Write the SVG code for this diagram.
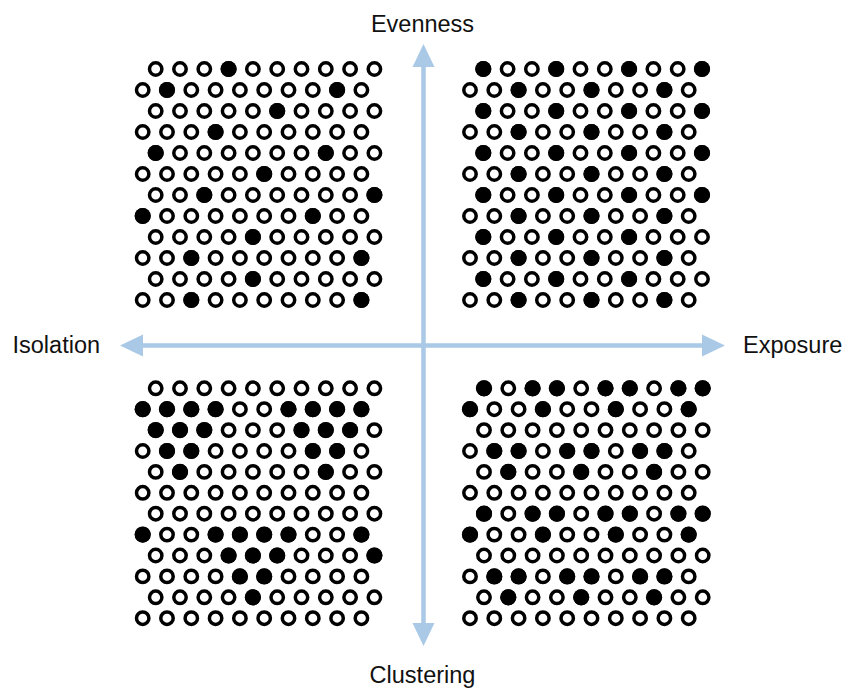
<svg xmlns="http://www.w3.org/2000/svg" xmlns:xlink="http://www.w3.org/1999/xlink" width="846" height="689" viewBox="0 0 846 689">
<style>
.o{fill:#fff;stroke:#000;stroke-width:3.5}
.f{fill:#000}
.ax{stroke:#a9c9e6;stroke-width:4.5;fill:none}
.lbl{font-family:"Liberation Sans",Arial,sans-serif;font-size:23.5px;fill:#111}
</style>
<defs>
<marker id="ah" markerUnits="userSpaceOnUse" markerWidth="24" markerHeight="24" viewBox="0 0 24 24" refX="1" refY="12" orient="auto-start-reverse">
<path d="M0,1 L23,12 L0,23 Z" fill="#a9c9e6"/>
</marker>
<g id="row">
<circle class="o" cx="0" cy="0" r="6.2"/><circle class="o" cx="24.3" cy="0" r="6.2"/><circle class="o" cx="48.6" cy="0" r="6.2"/><circle class="o" cx="72.9" cy="0" r="6.2"/><circle class="o" cx="97.2" cy="0" r="6.2"/><circle class="o" cx="121.5" cy="0" r="6.2"/><circle class="o" cx="145.8" cy="0" r="6.2"/><circle class="o" cx="170.1" cy="0" r="6.2"/><circle class="o" cx="194.4" cy="0" r="6.2"/><circle class="o" cx="218.7" cy="0" r="6.2"/>
</g>
<circle id="d" class="f" cx="0" cy="0" r="8.1"/>
</defs>
<rect width="846" height="689" fill="#fff"/>

<g id="connectors">
<line class="ax" x1="423.5" y1="624" x2="423.5" y2="66" marker-start="url(#ah)" marker-end="url(#ah)"/>
<line class="ax" x1="142" y1="345.5" x2="703" y2="345.5" marker-start="url(#ah)" marker-end="url(#ah)"/>
</g>

<g id="label-evenness"><text class="lbl" x="422.5" y="31.5" text-anchor="middle">Evenness</text></g>
<g id="label-isolation"><text class="lbl" x="12.5" y="353">Isolation</text></g>
<g id="label-exposure"><text class="lbl" x="743" y="353">Exposure</text></g>
<g id="label-clustering"><text class="lbl" x="422.5" y="683" text-anchor="middle">Clustering</text></g>

<g id="quadrant-top-left">
<use href="#row" x="155.7" y="69"/><use href="#row" x="142.7" y="90"/><use href="#row" x="155.7" y="111"/><use href="#row" x="142.7" y="132"/>
<use href="#row" x="155.7" y="153"/><use href="#row" x="142.7" y="174"/><use href="#row" x="155.7" y="195"/><use href="#row" x="142.7" y="216"/>
<use href="#row" x="155.7" y="237"/><use href="#row" x="142.7" y="258"/><use href="#row" x="155.7" y="279"/><use href="#row" x="142.7" y="300"/>
<use href="#d" x="228.6" y="69"/>
<use href="#d" x="167" y="90"/><use href="#d" x="337.1" y="90"/>
<use href="#d" x="277.2" y="111"/>
<use href="#d" x="215.6" y="132"/>
<use href="#d" x="155.7" y="153"/><use href="#d" x="325.8" y="153"/>
<use href="#d" x="264.2" y="174"/>
<use href="#d" x="204.3" y="195"/><use href="#d" x="374.4" y="195"/>
<use href="#d" x="142.7" y="216"/><use href="#d" x="312.8" y="216"/>
<use href="#d" x="252.9" y="237"/>
<use href="#d" x="191.3" y="258"/><use href="#d" x="361.4" y="258"/>
<use href="#d" x="252.9" y="279"/>
<use href="#d" x="191.3" y="300"/><use href="#d" x="361.4" y="300"/>
</g>

<g id="quadrant-top-right">
<use href="#row" x="483.3" y="69"/><use href="#row" x="470" y="90"/><use href="#row" x="483.3" y="111"/><use href="#row" x="470" y="132"/>
<use href="#row" x="483.3" y="153"/><use href="#row" x="470" y="174"/><use href="#row" x="483.3" y="195"/><use href="#row" x="470" y="216"/>
<use href="#row" x="483.3" y="237"/><use href="#row" x="470" y="258"/><use href="#row" x="483.3" y="279"/><use href="#row" x="470" y="300"/>
<use href="#d" x="483.3" y="69"/><use href="#d" x="556.2" y="69"/><use href="#d" x="629.1" y="69"/><use href="#d" x="702" y="69"/>
<use href="#d" x="518.6" y="90"/><use href="#d" x="591.5" y="90"/><use href="#d" x="664.4" y="90"/>
<use href="#d" x="483.3" y="111"/><use href="#d" x="556.2" y="111"/><use href="#d" x="629.1" y="111"/><use href="#d" x="702" y="111"/>
<use href="#d" x="518.6" y="132"/><use href="#d" x="591.5" y="132"/><use href="#d" x="664.4" y="132"/>
<use href="#d" x="483.3" y="153"/><use href="#d" x="556.2" y="153"/><use href="#d" x="629.1" y="153"/><use href="#d" x="702" y="153"/>
<use href="#d" x="518.6" y="174"/><use href="#d" x="591.5" y="174"/><use href="#d" x="664.4" y="174"/>
<use href="#d" x="483.3" y="195"/><use href="#d" x="556.2" y="195"/><use href="#d" x="629.1" y="195"/><use href="#d" x="702" y="195"/>
<use href="#d" x="518.6" y="216"/><use href="#d" x="591.5" y="216"/><use href="#d" x="664.4" y="216"/>
<use href="#d" x="483.3" y="237"/><use href="#d" x="556.2" y="237"/><use href="#d" x="629.1" y="237"/>
<use href="#d" x="518.6" y="258"/><use href="#d" x="591.5" y="258"/><use href="#d" x="664.4" y="258"/>
<use href="#d" x="483.3" y="279"/><use href="#d" x="556.2" y="279"/><use href="#d" x="629.1" y="279"/>
<use href="#d" x="518.6" y="300"/><use href="#d" x="591.5" y="300"/><use href="#d" x="664.4" y="300"/>
</g>

<g id="quadrant-bottom-left">
<use href="#row" x="155.7" y="388.3"/><use href="#row" x="142.7" y="409.2"/><use href="#row" x="155.7" y="430.1"/><use href="#row" x="142.7" y="451"/>
<use href="#row" x="155.7" y="471.9"/><use href="#row" x="142.7" y="492.8"/><use href="#row" x="155.7" y="513.7"/><use href="#row" x="142.7" y="534.6"/>
<use href="#row" x="155.7" y="555.5"/><use href="#row" x="142.7" y="576.4"/><use href="#row" x="155.7" y="597.3"/><use href="#row" x="142.7" y="618.2"/>
<use href="#d" x="142.7" y="409.2"/><use href="#d" x="167" y="409.2"/><use href="#d" x="191.3" y="409.2"/><use href="#d" x="215.6" y="409.2"/><use href="#d" x="288.5" y="409.2"/><use href="#d" x="312.8" y="409.2"/><use href="#d" x="337.1" y="409.2"/><use href="#d" x="361.4" y="409.2"/>
<use href="#d" x="155.7" y="430.1"/><use href="#d" x="180" y="430.1"/><use href="#d" x="204.3" y="430.1"/><use href="#d" x="301.5" y="430.1"/><use href="#d" x="325.8" y="430.1"/><use href="#d" x="350.1" y="430.1"/>
<use href="#d" x="167" y="451"/><use href="#d" x="191.3" y="451"/><use href="#d" x="312.8" y="451"/><use href="#d" x="337.1" y="451"/>
<use href="#d" x="180" y="471.9"/><use href="#d" x="325.8" y="471.9"/>
<use href="#d" x="142.7" y="534.6"/><use href="#d" x="215.6" y="534.6"/><use href="#d" x="239.9" y="534.6"/><use href="#d" x="264.2" y="534.6"/><use href="#d" x="288.5" y="534.6"/><use href="#d" x="361.4" y="534.6"/>
<use href="#d" x="228.6" y="555.5"/><use href="#d" x="252.9" y="555.5"/><use href="#d" x="277.2" y="555.5"/><use href="#d" x="374.4" y="555.5"/>
<use href="#d" x="239.9" y="576.4"/><use href="#d" x="264.2" y="576.4"/>
<use href="#d" x="252.9" y="597.3"/>
</g>

<g id="quadrant-bottom-right">
<use href="#row" x="484" y="388.3"/><use href="#row" x="470" y="409.2"/><use href="#row" x="484" y="430.1"/><use href="#row" x="470" y="451"/>
<use href="#row" x="484" y="471.9"/><use href="#row" x="470" y="492.8"/><use href="#row" x="484" y="513.7"/><use href="#row" x="470" y="534.6"/>
<use href="#row" x="484" y="555.5"/><use href="#row" x="470" y="576.4"/><use href="#row" x="484" y="597.3"/><use href="#row" x="470" y="618.2"/>
<use href="#d" x="484" y="388.3"/><use href="#d" x="532.6" y="388.3"/><use href="#d" x="556.9" y="388.3"/><use href="#d" x="605.5" y="388.3"/><use href="#d" x="629.8" y="388.3"/><use href="#d" x="678.4" y="388.3"/><use href="#d" x="702.7" y="388.3"/>
<use href="#d" x="470" y="409.2"/><use href="#d" x="542.9" y="409.2"/><use href="#d" x="615.8" y="409.2"/><use href="#d" x="688.7" y="409.2"/>
<use href="#d" x="494.3" y="451"/><use href="#d" x="518.6" y="451"/><use href="#d" x="567.2" y="451"/><use href="#d" x="591.5" y="451"/><use href="#d" x="640.1" y="451"/><use href="#d" x="664.4" y="451"/>
<use href="#d" x="508.3" y="471.9"/><use href="#d" x="581.2" y="471.9"/><use href="#d" x="654.1" y="471.9"/>
<use href="#d" x="484" y="513.7"/><use href="#d" x="532.6" y="513.7"/><use href="#d" x="556.9" y="513.7"/><use href="#d" x="605.5" y="513.7"/><use href="#d" x="629.8" y="513.7"/><use href="#d" x="678.4" y="513.7"/><use href="#d" x="702.7" y="513.7"/>
<use href="#d" x="470" y="534.6"/><use href="#d" x="542.9" y="534.6"/><use href="#d" x="615.8" y="534.6"/><use href="#d" x="688.7" y="534.6"/>
<use href="#d" x="494.3" y="576.4"/><use href="#d" x="518.6" y="576.4"/><use href="#d" x="567.2" y="576.4"/><use href="#d" x="591.5" y="576.4"/><use href="#d" x="640.1" y="576.4"/><use href="#d" x="664.4" y="576.4"/>
<use href="#d" x="508.3" y="597.3"/><use href="#d" x="581.2" y="597.3"/><use href="#d" x="654.1" y="597.3"/>
</g>
</svg>
